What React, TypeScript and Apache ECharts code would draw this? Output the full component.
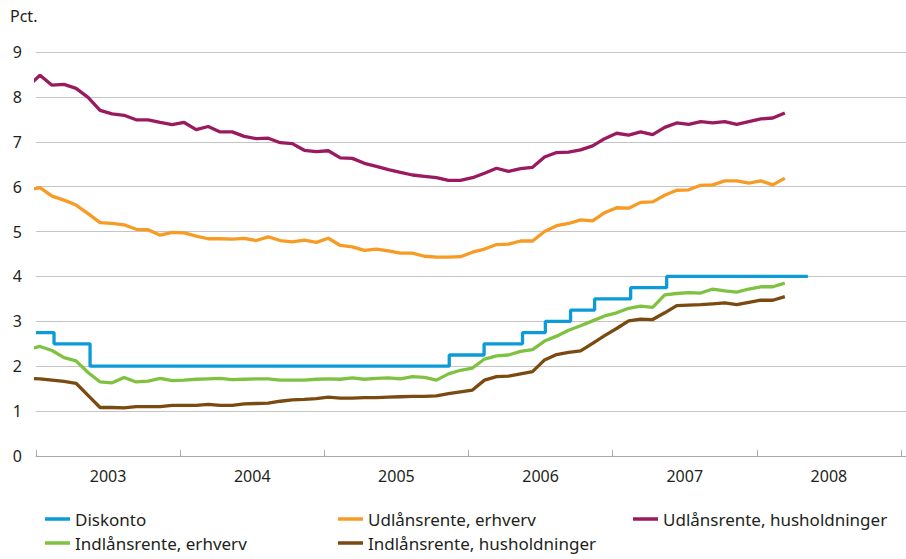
import React, { useEffect, useRef } from "react";
import * as echarts from "echarts";

// Year labels of the x axis (each year = 12 months)
const yearLabels = ["2003", "2004", "2005", "2006", "2007", "2008"];
const yTicks = [0, 1, 2, 3, 4, 5, 6, 7, 8, 9];

// Monthly observations: Dec 2002, then Jan 2003 ... Mar 2008
const udlanHusholdninger = [
  8.24,
  8.48, 8.26, 8.28, 8.19, 7.99, 7.70, 7.62, 7.59, 7.49, 7.49, 7.43, 7.38,
  7.43, 7.27, 7.34, 7.22, 7.22, 7.12, 7.07, 7.08, 6.98, 6.96, 6.81, 6.78,
  6.80, 6.64, 6.63, 6.52, 6.45, 6.38, 6.32, 6.26, 6.23, 6.20, 6.14, 6.14,
  6.20, 6.30, 6.41, 6.34, 6.40, 6.43, 6.66, 6.76, 6.77, 6.82, 6.91, 7.07,
  7.19, 7.15, 7.22, 7.16, 7.32, 7.42, 7.39, 7.45, 7.42, 7.45, 7.39, 7.45,
  7.51, 7.53, 7.64,
];
const udlanErhverv = [
  5.92,
  5.98, 5.79, 5.70, 5.59, 5.40, 5.20, 5.18, 5.15, 5.05, 5.04, 4.92, 4.98,
  4.97, 4.90, 4.84, 4.84, 4.83, 4.85, 4.80, 4.88, 4.80, 4.77, 4.81, 4.76,
  4.85, 4.69, 4.66, 4.58, 4.61, 4.57, 4.52, 4.52, 4.45, 4.43, 4.43, 4.44,
  4.54, 4.61, 4.71, 4.72, 4.79, 4.79, 5.00, 5.13, 5.18, 5.26, 5.24, 5.42,
  5.53, 5.52, 5.65, 5.66, 5.81, 5.92, 5.93, 6.03, 6.04, 6.13, 6.13, 6.08,
  6.13, 6.04, 6.19,
];
const indlanErhverv = [
  2.38,
  2.44, 2.35, 2.19, 2.12, 1.86, 1.65, 1.63, 1.75, 1.65, 1.67, 1.73, 1.68,
  1.69, 1.71, 1.72, 1.73, 1.70, 1.71, 1.72, 1.72, 1.69, 1.69, 1.69, 1.71,
  1.72, 1.71, 1.74, 1.71, 1.73, 1.74, 1.72, 1.77, 1.75, 1.69, 1.83, 1.91,
  1.96, 2.16, 2.23, 2.25, 2.33, 2.37, 2.56, 2.67, 2.80, 2.90, 3.01, 3.12,
  3.19, 3.29, 3.34, 3.31, 3.59, 3.62, 3.64, 3.63, 3.72, 3.68, 3.65, 3.72,
  3.77, 3.77, 3.85,
];
const indlanHusholdninger = [
  1.73,
  1.72, 1.69, 1.66, 1.62, 1.35, 1.08, 1.08, 1.07, 1.10, 1.10, 1.10, 1.13,
  1.13, 1.13, 1.15, 1.13, 1.13, 1.16, 1.17, 1.18, 1.22, 1.25, 1.26, 1.28,
  1.31, 1.29, 1.29, 1.30, 1.30, 1.31, 1.32, 1.33, 1.33, 1.34, 1.39, 1.43,
  1.47, 1.69, 1.77, 1.78, 1.83, 1.88, 2.14, 2.26, 2.31, 2.34, 2.51, 2.68,
  2.84, 3.01, 3.05, 3.04, 3.19, 3.35, 3.36, 3.37, 3.39, 3.41, 3.37, 3.42,
  3.47, 3.47, 3.55,
];

// Discount rate: change points (months since 1 Jan 2003) and rates
const diskontoMonths = [0, 1.5, 4.5, 34.4, 37.3, 40.5, 42.4, 44.5, 46.5, 49.5, 52.5, 64.25];
const diskontoRates = [2.75, 2.5, 2.0, 2.25, 2.5, 2.75, 3.0, 3.25, 3.5, 3.75, 4.0, 4.0];

const seriesNames = [
  "Diskonto",
  "Udlånsrente, erhverv",
  "Udlånsrente, husholdninger",
  "Indlånsrente, erhverv",
  "Indlånsrente, husholdninger",
];
const colors = ["#0a9bd8", "#f89b24", "#9a1a5f", "#7fc241", "#7a4a10"];

const FONT = "'Noto Sans', 'Open Sans', sans-serif";
const TEXT = "#231f20";

// monthly value i (0 = Dec 2002) placed a third into its month
const monthly = (vals: number[]) => vals.map((v, i) => [i - 1 + 1 / 3, v]);

export default function App() {
  const ref = useRef<HTMLDivElement>(null);
  useEffect(() => {
    if (!ref.current) return;
    const chart = echarts.init(ref.current, null, { renderer: "svg" });
    const xMax = 72.42;
    const lineSeries = (name: string, data: any[], idx: number, extra: any = {}) => ({
      name,
      type: "line",
      data,
      xAxisIndex: 0,
      showSymbol: false,
      symbol: "none",
      lineStyle: { width: 3.3, color: colors[idx] },
      itemStyle: { color: colors[idx] },
      ...extra,
    });
    const legendCommon = {
      orient: "vertical",
      top: 509,
      padding: 0,
      icon: "rect",
      itemWidth: 25,
      itemHeight: 3.5,
      itemGap: 4,
      selectedMode: false,
      textStyle: { fontFamily: FONT, fontSize: 17, color: TEXT, lineHeight: 20 },
    };
    chart.setOption({
      animation: false,
      backgroundColor: "#ffffff",
      grid: { left: 36, right: 0, top: 52, bottom: 103, containLabel: false },
      graphic: [
        {
          type: "text",
          left: 10,
          top: 8,
          style: { text: "Pct.", fontFamily: FONT, fontSize: 16, fill: TEXT },
        },
      ],
      legend: [
        { ...legendCommon, left: 45, data: [seriesNames[0], seriesNames[3]] },
        { ...legendCommon, left: 338, data: [seriesNames[1], seriesNames[4]] },
        { ...legendCommon, left: 633, data: [seriesNames[2]] },
      ],
      xAxis: [
        {
          type: "value",
          position: "bottom",
          min: 0,
          max: xMax,
          interval: 12,
          axisLine: { show: true, lineStyle: { color: "#a9a9a9", width: 1 } },
          axisTick: { show: true, inside: true, length: 6, lineStyle: { color: "#a9a9a9" } },
          axisLabel: { show: false },
          splitLine: { show: false },
        },
        {
          type: "value",
          position: "bottom",
          min: 0,
          max: xMax,
          interval: 6,
          axisLine: { show: false },
          axisTick: { show: false },
          splitLine: { show: false },
          axisLabel: {
            show: true,
            margin: 12,
            fontFamily: FONT,
            fontSize: 16,
            color: TEXT,
            showMaxLabel: false,
            formatter: (v: number) => {
              const r = Math.round(v);
              if (Math.abs(v - r) > 0.01 || r % 12 !== 6) return "";
              return yearLabels[(r - 6) / 12] || "";
            },
          },
        },
      ],
      yAxis: {
        type: "value",
        min: yTicks[0],
        max: yTicks[yTicks.length - 1],
        interval: 1,
        axisLine: { show: false },
        axisTick: { show: false },
        axisLabel: { margin: 14, fontFamily: FONT, fontSize: 16, color: TEXT },
        splitLine: { show: true, lineStyle: { color: "#c4c4c4", width: 1 } },
      },
      series: [
        lineSeries(
          seriesNames[0],
          diskontoMonths.map((m, i) => [m, diskontoRates[i]]),
          0,
          { step: "end" }
        ),
        lineSeries(seriesNames[1], monthly(udlanErhverv), 1),
        lineSeries(seriesNames[2], monthly(udlanHusholdninger), 2),
        lineSeries(seriesNames[3], monthly(indlanErhverv), 3),
        lineSeries(seriesNames[4], monthly(indlanHusholdninger), 4),
      ],
    });
    return () => chart.dispose();
  }, []);
  return (
    <div
      ref={ref}
      style={{ position: "absolute", left: 0, top: 0, width: 906, height: 559 }}
    />
  );
}
